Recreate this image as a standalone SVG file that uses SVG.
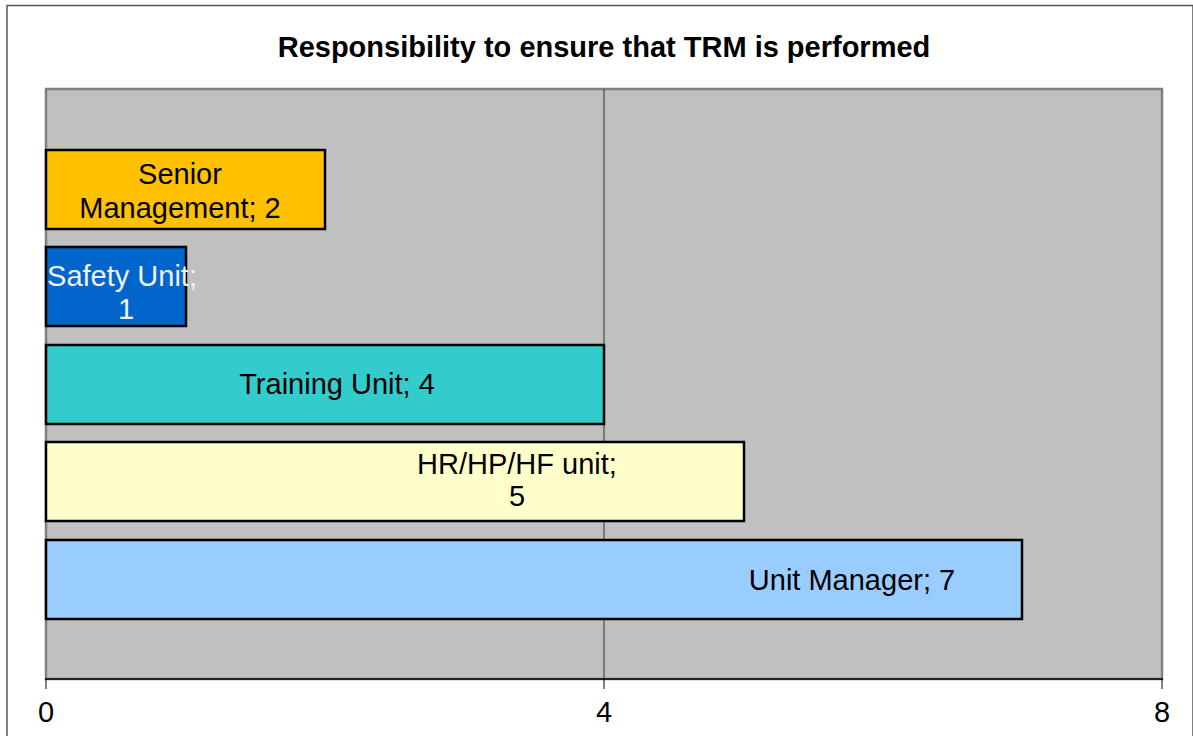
<svg xmlns="http://www.w3.org/2000/svg" width="1193" height="736" viewBox="0 0 1193 736">
  <style>
    .lbl { font-family: "Liberation Sans", Arial, sans-serif; font-size: 29px; fill: #000; text-anchor: middle; }
    .bar { stroke: #000; stroke-width: 2.5; }
    .tick { stroke: #000; stroke-width: 1; }
  </style>
  <rect x="0" y="0" width="1193" height="736" fill="#fff"/>
  <!-- chart frame -->
  <rect x="7" y="5.5" width="1186" height="740" fill="none" stroke="#555" stroke-width="1.5"/>
  <text x="604" y="57" class="lbl" style="font-weight:bold">Responsibility to ensure that TRM is performed</text>

  <!-- plot area -->
  <g id="plot">
    <rect x="46" y="89" width="1116" height="590" fill="#c0c0c0" stroke="#808080" stroke-width="2.5"/>
    <line x1="604" y1="89" x2="604" y2="679" stroke="#333" stroke-width="1"/>
    <line x1="45" y1="679" x2="1163" y2="679" stroke="#000" stroke-width="1.5"/>
    <line class="tick" x1="46" y1="679" x2="46" y2="689"/>
    <line class="tick" x1="604" y1="679" x2="604" y2="689"/>
    <line class="tick" x1="1162" y1="679" x2="1162" y2="689"/>
    <text x="46" y="722" class="lbl">0</text>
    <text x="604" y="722" class="lbl">4</text>
    <text x="1162" y="722" class="lbl">8</text>
  </g>

  <g id="senior-management">
    <rect class="bar" x="46" y="150" width="279" height="79" fill="#ffc000"/>
    <text x="180" y="184" class="lbl">Senior</text>
    <text x="180" y="218" class="lbl">Management; 2</text>
  </g>
  <g id="safety-unit">
    <rect class="bar" x="46" y="247" width="140" height="79" fill="#0066cc"/>
    <text x="122" y="286" class="lbl" style="fill:#f2f2f2">Safety Unit;</text>
    <text x="126" y="319" class="lbl" style="fill:#f2f2f2">1</text>
  </g>
  <g id="training-unit">
    <rect class="bar" x="46" y="345" width="558" height="79" fill="#33cccc"/>
    <text x="337" y="394" class="lbl">Training Unit; 4</text>
  </g>
  <g id="hr-hp-hf-unit">
    <rect class="bar" x="46" y="442" width="698" height="79" fill="#ffffcc"/>
    <text x="517" y="474" class="lbl">HR/HP/HF unit;</text>
    <text x="517" y="506" class="lbl">5</text>
  </g>
  <g id="unit-manager">
    <rect class="bar" x="46" y="540" width="976" height="79" fill="#99ccff"/>
    <text x="852" y="590" class="lbl">Unit Manager; 7</text>
  </g>
</svg>
